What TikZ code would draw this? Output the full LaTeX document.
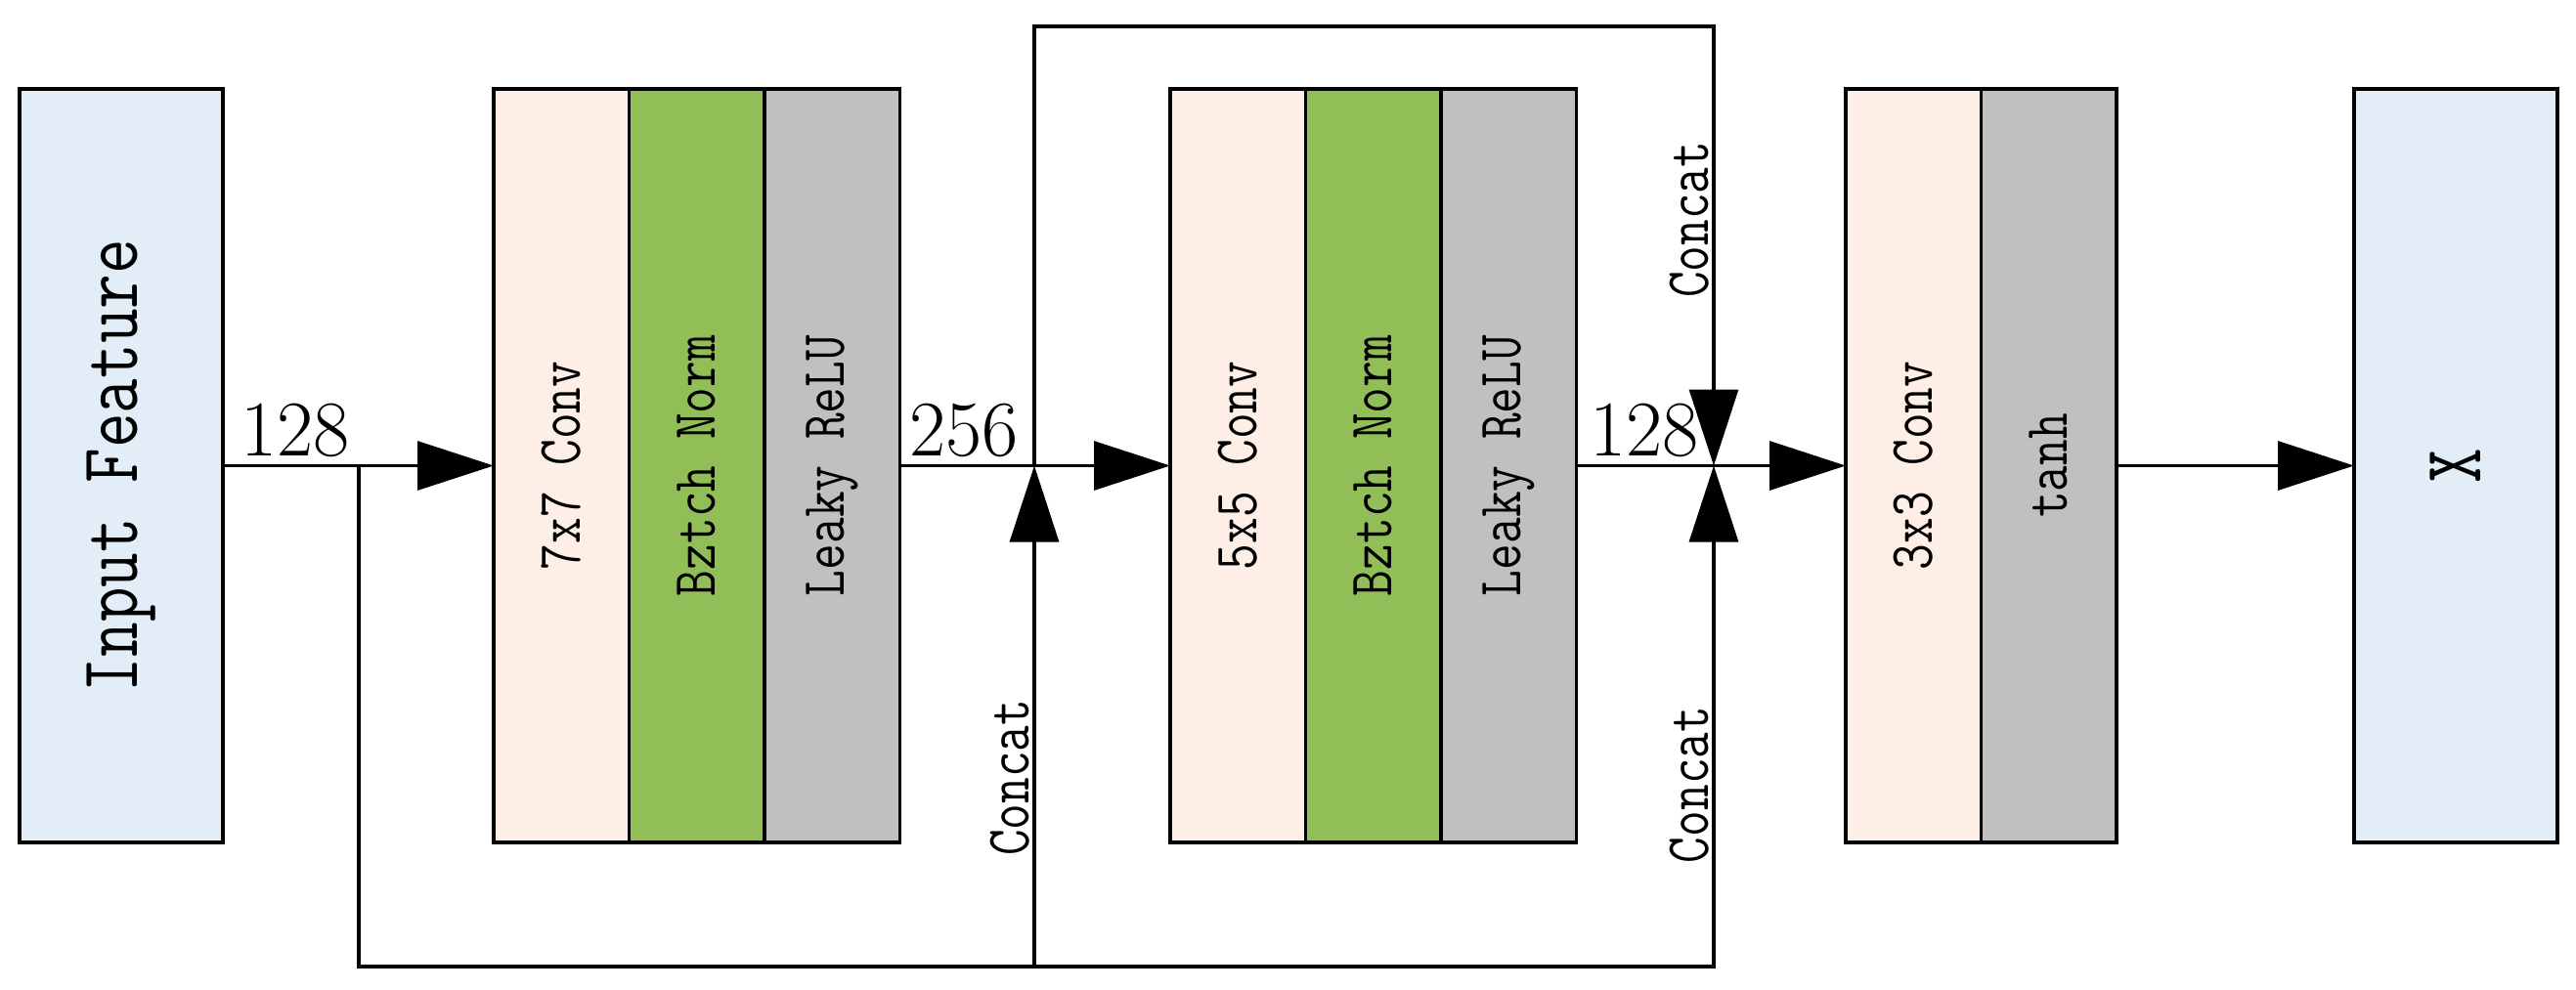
\documentclass[tikz,border=0pt]{standalone}
\usepackage{graphicx}
\usetikzlibrary{positioning,arrows.meta}

\definecolor{iofill}{RGB}{226,237,248}
\definecolor{convfill}{RGB}{253,239,229}
\definecolor{normfill}{RGB}{146,190,88}
\definecolor{actfill}{RGB}{192,192,192}

\newcommand{\narrow}[1]{\scalebox{0.82}[1]{#1}}
\newcommand{\vlabel}[1]{\rotatebox{90}{\narrow{#1}}}

\tikzset{
  stage/.style={draw, line width=0.9pt, inner sep=0pt, outer sep=0pt, minimum width=1.385cm, minimum height=7.71cm, font=\ttfamily\fontsize{18}{18}\selectfont},
  conv/.style={stage, fill=convfill},
  bnorm/.style={stage, fill=normfill},
  act/.style={stage, fill=actfill},
  io/.style={stage, fill=iofill, minimum width=2.08cm, font=\ttfamily\fontsize{24}{24}\selectfont},
  link/.style={line width=0.9pt},
  flow/.style={link, -{Triangle[length=7.8mm,width=5mm]}},
  chan/.style={font=\fontsize{23}{23}\selectfont, inner sep=0pt, anchor=south west, yshift=0.085cm},
  cat/.style={rotate=90, anchor=south, inner sep=1pt, font=\ttfamily\fontsize{18}{18}\selectfont},
}

\begin{document}
\begin{tikzpicture}
\useasboundingbox (0,0) rectangle (26.35,10.12);

% layers
\node[io] (in) at (1.24,5.355) {\vlabel{Input Feature}};
\node[conv] (c1) at (5.7425,5.355) {\vlabel{7x7 Conv}};
\node[bnorm, right=0pt of c1] (n1) {\vlabel{Bztch Norm}};
\node[act, right=0pt of n1] (a1) {\vlabel{Leaky ReLU}};
\node[conv] (c2) at (12.6625,5.355) {\vlabel{5x5 Conv}};
\node[bnorm, right=0pt of c2] (n2) {\vlabel{Bztch Norm}};
\node[act, right=0pt of n2] (a2) {\vlabel{Leaky ReLU}};
\node[conv] (c3) at (19.5725,5.355) {\vlabel{3x3 Conv}};
\node[act, right=0pt of c3] (a3) {\vlabel{tanh}};
\node[io] (out) at (25.12,5.355) {\vlabel{X}};

% channel sizes
\node[chan, xshift=0.18cm] (w1) at (in.east) {128};
\node[chan, xshift=0.09cm] (w2) at (a1.east) {256};
\node[chan, xshift=0.13cm] (w3) at (a2.east) {128};

% skip paths
\coordinate (j1) at (3.67,5.355);
\coordinate (j2) at (10.58,5.355);
\coordinate (j3) at (17.53,5.355);
\coordinate (b1) at (3.67,0.23);
\coordinate (b2) at (10.58,0.23);
\coordinate (b3) at (17.53,0.23);
\coordinate (t2) at (10.58,9.85);
\coordinate (t3) at (17.53,9.85);

\draw[flow] (in.east) -- (c1.west);
\draw[flow] (a1.east) -- (c2.west);
\draw[flow] (a2.east) -- (c3.west);
\draw[flow] (a3.east) -- (out.west);

\draw[flow] (j1) -- (b1) -- (b3) -- node[cat, pos=0.363] (k3) {\narrow{Concat}} (j3);
\draw[flow] (b2) -- node[cat, pos=0.377] (k1) {\narrow{Concat}} (j2);
\draw[flow] (j2) -- (t2) -- (t3) -- node[cat, pos=0.44] (k2) {\narrow{Concat}} (j3);
\end{tikzpicture}
\end{document}
